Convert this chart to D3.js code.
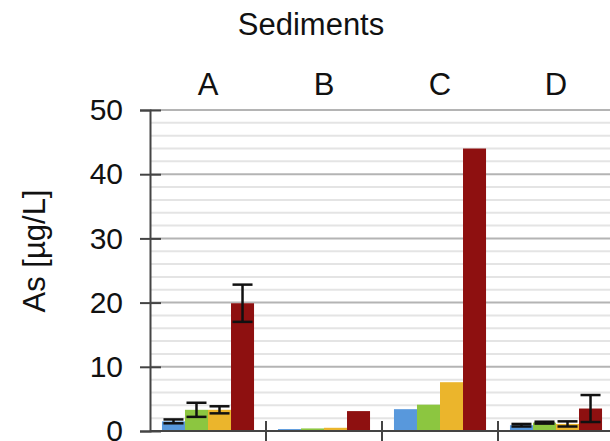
<!DOCTYPE html>
<html lang="en">
<head>
    <meta charset="UTF-8">
    <title>Sediments - As</title>
    <style>
        body { margin: 0; background: #fff; }
        text { font-family: "Liberation Sans", Arial, sans-serif; fill: #111; }
    </style>
</head>
<body>
    <svg id="chart" width="610" height="441"></svg>
    <script src="https://d3js.org/d3.v7.min.js"></script>
    <script>
        // Data
        var sites = ["A", "B", "C", "D"];
        var series = ["s1", "s2", "s3", "s4"];
        var colors = ["#5898dc", "#8cc640", "#ebb52c", "#8e1010"];
        var values = [
            [1.5, 3.3, 3.3, 19.9],   // A
            [0.3, 0.4, 0.5, 3.1],    // B
            [3.4, 4.1, 7.6, 44.0],   // C
            [0.9, 1.3, 1.1, 3.5]     // D
        ];
        var errors = [
            [0.3, 1.1, 0.55, 2.9],
            [0, 0, 0, 0],
            [0, 0, 0, 0],
            [0.2, 0.15, 0.4, 2.1]
        ];
        var yTicks = [0, 10, 20, 30, 40, 50];

        var svg = d3.select("#chart");

        var x = d3.scaleBand()
                  .domain(sites)
                  .range([150, 614])
                  .paddingInner(0)
                  .paddingOuter(0);

        var xs = d3.scaleBand()
                   .domain(series)
                   .range([0, x.bandwidth()])
                   .paddingInner(0)
                   .paddingOuter(0.52);

        var y = d3.scaleLinear()
                  .domain([0, 50])
                  .range([431, 110]);

        // Minor gridlines every 2
        svg.append("g")
           .selectAll("line")
           .data(d3.range(2, 51, 2).filter(function(d) { return d % 10 !== 0; }))
           .enter().append("line")
           .attr("x1", 150).attr("x2", 610)
           .attr("y1", function(d) { return y(d); })
           .attr("y2", function(d) { return y(d); })
           .attr("stroke", "#e4e4e4")
           .attr("stroke-width", 2);

        // Major gridlines
        svg.append("g")
           .selectAll("line")
           .data(yTicks.slice(1))
           .enter().append("line")
           .attr("x1", 150).attr("x2", 610)
           .attr("y1", function(d) { return y(d); })
           .attr("y2", function(d) { return y(d); })
           .attr("stroke", "#b4b4b4")
           .attr("stroke-width", 2);

        // Bars
        var groups = svg.append("g")
           .selectAll("g")
           .data(sites)
           .enter().append("g")
           .attr("transform", function(d) { return "translate(" + x(d) + ",0)"; });

        groups.selectAll("rect")
           .data(function(d, i) { return values[i].map(function(v, j) { return { s: series[j], v: v, c: colors[j] }; }); })
           .enter().append("rect")
           .attr("x", function(d) { return xs(d.s); })
           .attr("width", xs.bandwidth())
           .attr("y", function(d) { return y(d.v); })
           .attr("height", function(d) { return y(0) - y(d.v); })
           .attr("fill", function(d) { return d.c; });

        // Error bars
        var eb = groups.selectAll("g.err")
           .data(function(d, i) {
               return values[i].map(function(v, j) { return { s: series[j], v: v, e: errors[i][j] }; })
                               .filter(function(d) { return d.e > 0; });
           })
           .enter().append("g")
           .attr("class", "err")
           .attr("stroke", "#111")
           .attr("stroke-width", 2.5);

        eb.append("line")
          .attr("x1", function(d) { return xs(d.s) + xs.bandwidth() / 2; })
          .attr("x2", function(d) { return xs(d.s) + xs.bandwidth() / 2; })
          .attr("y1", function(d) { return y(d.v - d.e); })
          .attr("y2", function(d) { return y(d.v + d.e); });

        [-1, 1].forEach(function(sign) {
            eb.append("line")
              .attr("x1", function(d) { return xs(d.s) + xs.bandwidth() / 2 - 10; })
              .attr("x2", function(d) { return xs(d.s) + xs.bandwidth() / 2 + 10; })
              .attr("y1", function(d) { return y(d.v + sign * d.e); })
              .attr("y2", function(d) { return y(d.v + sign * d.e); });
        });

        // Y axis
        var yAxis = svg.append("g")
           .attr("transform", "translate(150,0)")
           .call(d3.axisLeft(y).tickValues(yTicks).tickSize(10).tickPadding(17));
        yAxis.select(".domain").attr("stroke", "#444").attr("stroke-width", 2);
        yAxis.selectAll(".tick line").attr("stroke", "#444").attr("stroke-width", 2).attr("x2", 11).attr("x1", -10);
        yAxis.selectAll(".tick text").style("font-size", "30px").attr("fill", "#111")
             .attr("font-family", "Liberation Sans, Arial, sans-serif");

        // X axis line with separator ticks
        svg.append("line")
           .attr("x1", 150).attr("x2", 610)
           .attr("y1", y(0)).attr("y2", y(0))
           .attr("stroke", "#444").attr("stroke-width", 2);

        svg.append("g")
           .selectAll("line")
           .data(sites.slice(1))
           .enter().append("line")
           .attr("x1", function(d) { return x(d); })
           .attr("x2", function(d) { return x(d); })
           .attr("y1", y(0) - 10).attr("y2", y(0) + 10)
           .attr("stroke", "#444").attr("stroke-width", 2);

        // Site labels on top
        svg.append("g")
           .selectAll("text")
           .data(sites)
           .enter().append("text")
           .attr("x", function(d) { return x(d) + x.bandwidth() / 2; })
           .attr("y", 95)
           .attr("text-anchor", "middle")
           .style("font-size", "31px")
           .text(function(d) { return d; });

        // Title
        svg.append("text")
           .attr("x", 311)
           .attr("y", 35)
           .attr("text-anchor", "middle")
           .style("font-size", "31px")
           .text("Sediments");

        // Y label
        svg.append("text")
           .attr("transform", "translate(45,251) rotate(-90)")
           .attr("text-anchor", "middle")
           .style("font-size", "31px")
           .text("As [µg/L]");
    </script>
</body>
</html>
